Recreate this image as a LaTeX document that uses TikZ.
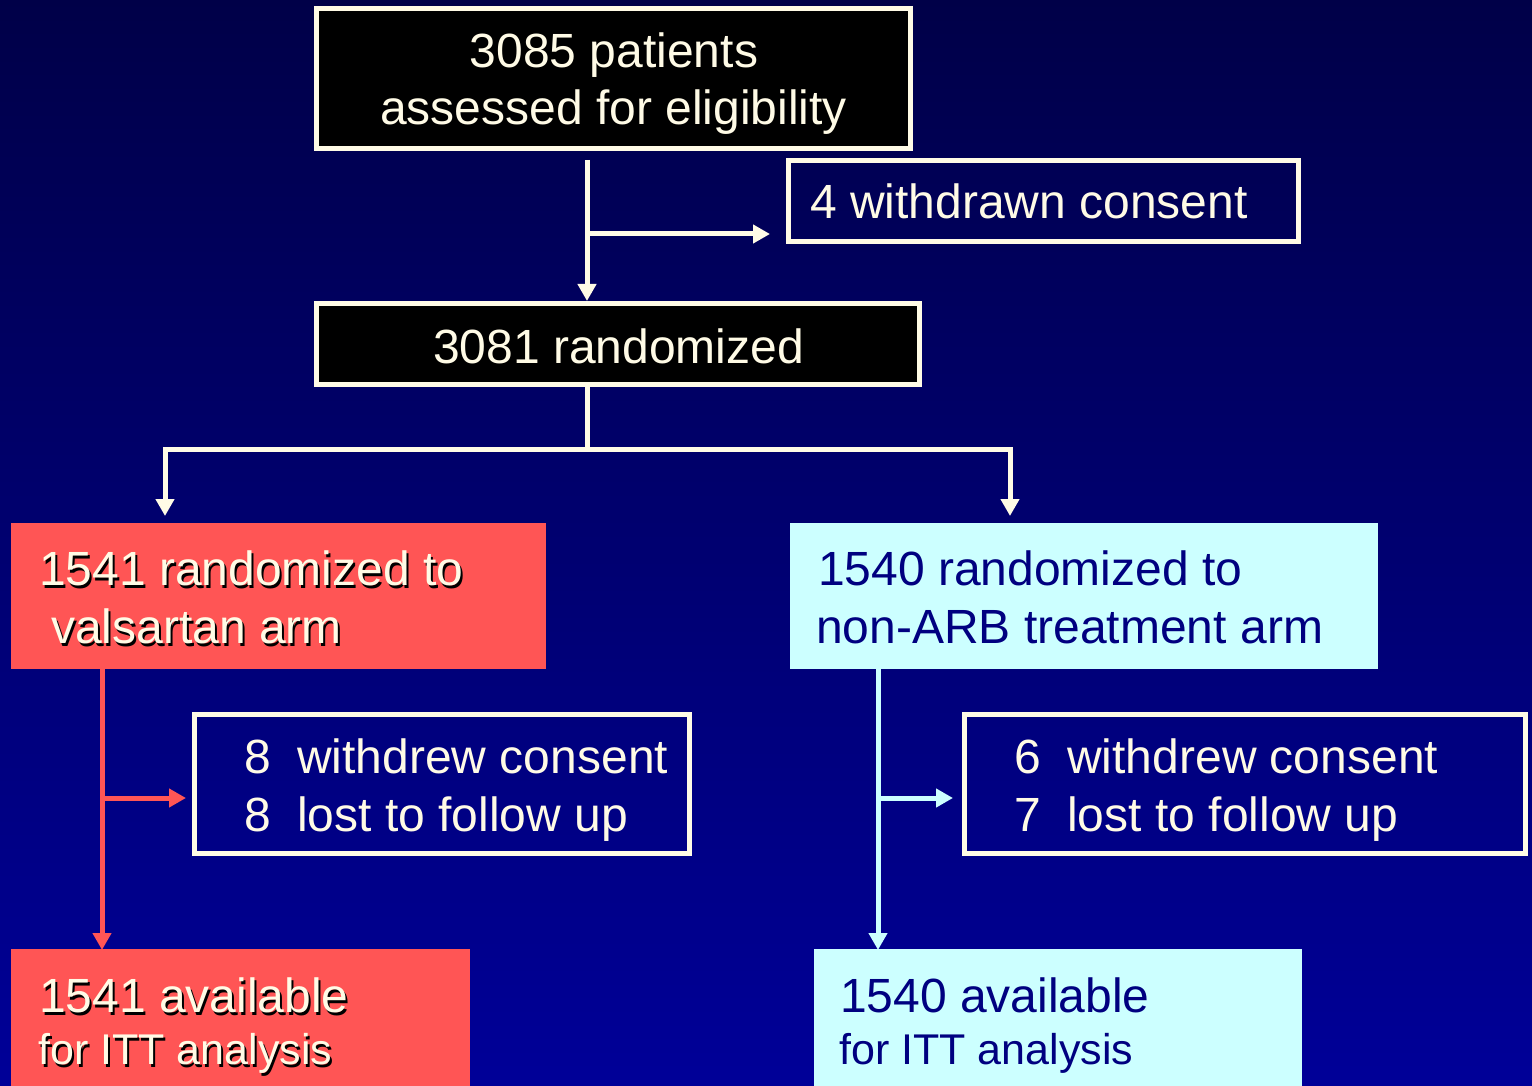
\documentclass[tikz,border=0pt]{standalone}
\usepackage{fontspec}
\setmainfont{Liberation Sans}
\usetikzlibrary{arrows.meta}
\definecolor{cream}{RGB}{255,251,230}
\definecolor{bgtop}{RGB}{0,0,72}
\definecolor{bgbot}{RGB}{0,0,152}
\definecolor{redbox}{RGB}{255,85,85}
\definecolor{cyanbox}{RGB}{204,255,255}
\definecolor{navytext}{RGB}{0,0,128}
\tikzset{
  blackbox/.style={draw=cream, line width=5pt, fill=black, inner sep=0pt},
  outlinebox/.style={draw=cream, line width=5pt, inner sep=0pt},
  redfill/.style={fill=redbox, inner sep=0pt},
  cyanfill/.style={fill=cyanbox, inner sep=0pt},
  txt/.style={inner sep=0pt, font=\fontsize{48}{58}\selectfont},
  smalltxt/.style={inner sep=0pt, font=\fontsize{43}{52}\selectfont},
  creamtxt/.style={text=cream},
  shadowtxt/.style={text=black},
  navytxt/.style={text=navytext},
  arr/.style={line width=5pt, -{Triangle[length=17pt,width=18pt]}},
  plainline/.style={line width=5pt},
  creamline/.style={draw=cream},
  redline/.style={draw=redbox, fill=redbox},
  cyanline/.style={draw=cyanbox, fill=cyanbox}
}
\begin{document}
\begin{tikzpicture}[x=1pt,y=-1pt]
\useasboundingbox (0,0) rectangle (1532,1086);
\shade[top color=bgtop, bottom color=bgbot] (0,0) rectangle (1532,1086);

% boxes
\node[blackbox, minimum width=594pt, minimum height=140pt] (b1) at (613.5,78.5) {};
\node[outlinebox, minimum width=510pt, minimum height=81pt] (w1) at (1043.5,201) {};
\node[blackbox, minimum width=603pt, minimum height=81pt] (b2) at (618,344) {};
\node[redfill, minimum width=535pt, minimum height=146pt] (r1) at (278.5,596) {};
\node[cyanfill, minimum width=588pt, minimum height=146pt] (c1) at (1084,596) {};
\node[outlinebox, minimum width=495pt, minimum height=139pt] (w2) at (442,784) {};
\node[outlinebox, minimum width=561pt, minimum height=139pt] (w3) at (1245,784) {};
\node[redfill, minimum width=459pt, minimum height=150pt] (r2) at (240.5,1024) {};
\node[cyanfill, minimum width=488pt, minimum height=150pt] (c2) at (1058,1024) {};

% texts
\node[txt, creamtxt, anchor=base] (t1a) at (614,68) {3085 patients};
\node[txt, creamtxt, anchor=base] (t1b) at (613.5,125) {assessed for eligibility};
\node[txt, creamtxt, anchor=base west] (tw1) at (810,219) {4 withdrawn consent};
\node[txt, creamtxt, anchor=base] (t2) at (618.5,363) {3081 randomized};

\node[txt, shadowtxt, anchor=base west] (r1as) at (41,588) {1541 randomized to};
\node[txt, shadowtxt, anchor=base west] (r1bs) at (53,646) {valsartan arm};
\node[txt, creamtxt, anchor=base west] (r1a) at (39,585) {1541 randomized to};
\node[txt, creamtxt, anchor=base west] (r1b) at (51,643) {valsartan arm};

\node[txt, navytxt, anchor=base west] (c1a) at (818,585) {1540 randomized to};
\node[txt, navytxt, anchor=base west] (c1b) at (816,643) {non-ARB treatment arm};

\node[txt, creamtxt, anchor=base west] (w2a) at (244,773) {8\hspace{0.55em}withdrew consent};
\node[txt, creamtxt, anchor=base west] (w2b) at (244,831) {8\hspace{0.55em}lost to follow up};
\node[txt, creamtxt, anchor=base west] (w3a) at (1014,773) {6\hspace{0.55em}withdrew consent};
\node[txt, creamtxt, anchor=base west] (w3b) at (1014,831) {7\hspace{0.55em}lost to follow up};

\node[txt, shadowtxt, anchor=base west] (r2as) at (41,1015) {1541 available};
\node[smalltxt, shadowtxt, anchor=base west] (r2bs) at (40,1067) {for ITT analysis};
\node[txt, creamtxt, anchor=base west] (r2a) at (39,1012) {1541 available};
\node[smalltxt, creamtxt, anchor=base west] (r2b) at (38,1064) {for ITT analysis};

\node[txt, navytxt, anchor=base west] (c2a) at (840,1012) {1540 available};
\node[smalltxt, navytxt, anchor=base west] (c2b) at (839,1064) {for ITT analysis};

% connector coordinates
\coordinate (s1) at (587,160);
\coordinate (j1) at (587,234);
\coordinate (e1) at (587,301);
\coordinate (w1in) at (770,234);
\coordinate (s2) at (587,387);
\coordinate (j2) at (587,449);
\coordinate (jl) at (165,449);
\coordinate (jr) at (1010,449);
\coordinate (el) at (165,516);
\coordinate (er) at (1010,516);
\coordinate (rs) at (102,669);
\coordinate (rj) at (102,798);
\coordinate (re) at (102,950);
\coordinate (rw) at (186,798);
\coordinate (cs) at (878,669);
\coordinate (cj) at (878,798);
\coordinate (ce) at (878,950);
\coordinate (cw) at (953,798);

% connectors
\draw[arr, creamline] (s1) -- (e1);
\draw[arr, creamline] (j1) -- (w1in);
\draw[plainline, creamline] (s2) -- (j2);
\draw[plainline, creamline, line cap=rect] (jl) -- (jr);
\draw[arr, creamline] (jl) -- (el);
\draw[arr, creamline] (jr) -- (er);
\draw[arr, redline] (rs) -- (re);
\draw[arr, redline] (rj) -- (rw);
\draw[arr, cyanline] (cs) -- (ce);
\draw[arr, cyanline] (cj) -- (cw);
\end{tikzpicture}
\end{document}
